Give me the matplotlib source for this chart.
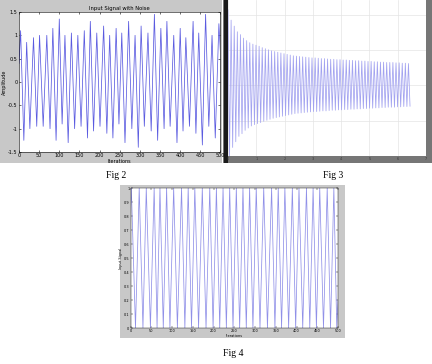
import numpy as np
import matplotlib
matplotlib.use("Agg")
import matplotlib.pyplot as plt
from matplotlib.patches import Rectangle

W, H = 432, 364

# Fig 2: noisy input signal, extremes
fig2_peak_x = [4, 19, 36, 51, 69, 84, 100, 114, 130, 146, 162, 177, 193, 210, 225, 241,
               255, 272, 288, 303, 320, 336, 352, 367, 384, 400, 414, 432, 446, 463, 479, 496]
fig2_peak_y = [1.1, 0.85, 0.95, 1.0, 1.0, 1.15, 1.35, 1.0, 1.05, 1.0, 1.1, 1.3, 1.05, 1.2, 1.0, 1.15,
               1.05, 1.3, 1.0, 1.2, 1.05, 1.45, 1.15, 1.3, 1.0, 1.15, 0.95, 1.3, 1.05, 1.45, 1.0, 1.25]
fig2_trough_x = [12, 27, 44, 60, 77, 92, 107, 122, 138, 154, 170, 185, 201, 218, 233, 248,
                 263, 280, 296, 311, 328, 344, 360, 375, 392, 407, 423, 439, 455, 471, 487]
fig2_trough_y = [-1.25, -1.0, -0.95, -0.95, -1.0, -1.25, -0.9, -1.3, -1.0, -0.95, -1.2, -1.05, -0.95, -1.1,
                 -1.2, -0.9, -1.3, -1.0, -1.4, -0.95, -1.05, -1.25, -1.0, -0.95, -1.3, -1.05, -0.95,
                 -1.1, -1.35, -0.95, -1.2]
fig2_start = (0, 0.4)
fig2_end = (500, 0.6)

# Fig 3: decaying oscillation, amplitude of each cycle
fig3_amp = [2.14, 1.85, 1.68, 1.52, 1.44, 1.34, 1.27, 1.21, 1.17, 1.14, 1.11, 1.07, 1.04, 1.01,
            0.98, 0.96, 0.94, 0.92, 0.90, 0.88, 0.86, 0.84, 0.83, 0.82, 0.81, 0.80, 0.79, 0.78,
            0.78, 0.77, 0.76, 0.76, 0.75, 0.74, 0.74, 0.73, 0.73, 0.72, 0.72, 0.71, 0.71, 0.70,
            0.70, 0.69, 0.69, 0.68, 0.68, 0.67, 0.67, 0.66, 0.66, 0.65, 0.65, 0.65, 0.64, 0.64,
            0.63, 0.63, 0.62]
fig3_cycle = 0.11

# Fig 4: input signal between 0 and 1
fig4_peak_x = [2, 21, 38, 57, 71, 87, 104, 123, 139, 155, 173, 191, 207, 223, 239, 255,
               271, 287, 303, 321, 340, 356, 372, 390, 406, 424, 440, 456, 474, 490]
fig4_trough_x = [12, 30, 48, 64, 79, 95, 113, 131, 147, 164, 182, 199, 215, 231, 247, 263,
                 279, 295, 312, 330, 348, 364, 381, 398, 415, 432, 448, 465, 482, 497]


def px_axes(fig, l, t, r, b):
    return fig.add_axes([l / W, 1 - b / H, (r - l) / W, (b - t) / H])


def px_rect(fig, l, t, r, b, color):
    fig.add_artist(Rectangle((l / W, 1 - b / H), (r - l) / W, (b - t) / H,
                             transform=fig.transFigure, color=color, lw=0, zorder=0))


def zigzag(xa, ya, xb, yb, start=None, end=None):
    pts = sorted(list(zip(xa, ya)) + list(zip(xb, yb)))
    if start:
        pts = [start] + pts
    if end:
        pts = pts + [end]
    x, y = zip(*pts)
    return np.array(x), np.array(y)


fig = plt.figure(figsize=(W / 100, H / 100), dpi=100)
fig.patch.set_facecolor("white")

# ---- Fig 2
px_rect(fig, 0, 0, 222, 163, "#c8c8c8")
ax1 = px_axes(fig, 19, 12, 220.5, 152)
x, y = zigzag(fig2_peak_x, fig2_peak_y, fig2_trough_x, fig2_trough_y, fig2_start, fig2_end)
ax1.plot(x, y, color="#5a5ae0", lw=0.55)
ax1.set_xlim(0, 500)
ax1.set_ylim(-1.5, 1.5)
ax1.set_xticks(np.arange(0, 501, 50))
ax1.set_yticks([-1.5, -1, -0.5, 0, 0.5, 1, 1.5])
ax1.set_yticklabels(["-1.5", "-1", "-0.5", "0", "0.5", "1", "1.5"])
ax1.tick_params(labelsize=3.5, length=1.5, width=0.4, pad=1, direction="in",
                top=True, right=True)
ax1.set_title("Input Signal with Noise", fontsize=3.8, pad=1.5)
ax1.set_xlabel("Iterations", fontsize=3.5, labelpad=0.5)
ax1.set_ylabel("Amplitude", fontsize=3.5, labelpad=1)
for s in ax1.spines.values():
    s.set_linewidth(0.4)

# ---- Fig 3
px_rect(fig, 223, 0, 432, 163, "#767676")
px_rect(fig, 223.5, 0, 228, 163, "#1a1a1a")
ax2 = px_axes(fig, 228, 0, 426, 156)
n = len(fig3_amp)
t_up = np.arange(n) * fig3_cycle
t_dn = t_up + fig3_cycle / 2
x3, y3 = zigzag(t_up, fig3_amp, t_dn, [-a * 0.95 for a in fig3_amp])
ax2.plot(x3, y3, color="#a2a2f0", lw=0.55)
ax2.set_xlim(0, 7)
ax2.set_ylim(-1.98, 2.42)
ax2.set_xticks(np.arange(0, 8, 1))
ax2.set_yticks([-2, -1, 0, 1, 2])
ax2.grid(True, color="#e4e4e4", lw=0.5)
ax2.set_axisbelow(True)
ax2.tick_params(labelsize=2.5, length=0, pad=1, labelcolor="#3a3a3a", labelleft=False)
for s in ax2.spines.values():
    s.set_visible(False)

# ---- Fig 4
px_rect(fig, 120, 185, 345, 338, "#c8c8c8")
ax3 = px_axes(fig, 130.5, 188, 338, 328)
x4, y4 = zigzag(fig4_peak_x, [1] * len(fig4_peak_x), fig4_trough_x, [0] * len(fig4_trough_x),
                start=(0, 0.85), end=(500, 0.2))
ax3.plot(x4, y4, color="#9090e8", lw=0.55)
ax3.set_xlim(0, 500)
ax3.set_ylim(0, 1)
ax3.set_xticks(np.arange(0, 501, 50))
ax3.set_yticks(np.arange(0, 1.01, 0.1))
ax3.set_yticklabels(["0", "0.1", "0.2", "0.3", "0.4", "0.5", "0.6", "0.7", "0.8", "0.9", "1"])
ax3.tick_params(labelsize=2.5, length=1.2, width=0.3, pad=0.8, direction="in",
                top=True, right=True)
ax3.set_xlabel("Iterations", fontsize=2.5, labelpad=0.3)
ax3.set_ylabel("Input Signal", fontsize=2.5, labelpad=0.5)
for s in ax3.spines.values():
    s.set_linewidth(0.3)

# captions
cap = dict(fontsize=7, family="Liberation Serif", ha="center", va="center")
fig.text(116 / W, 1 - 175 / H, "Fig 2", **cap)
fig.text(333 / W, 1 - 175 / H, "Fig 3", **cap)
fig.text(233 / W, 1 - 353 / H, "Fig 4", **cap)

fig.savefig("out.png", dpi=100)
